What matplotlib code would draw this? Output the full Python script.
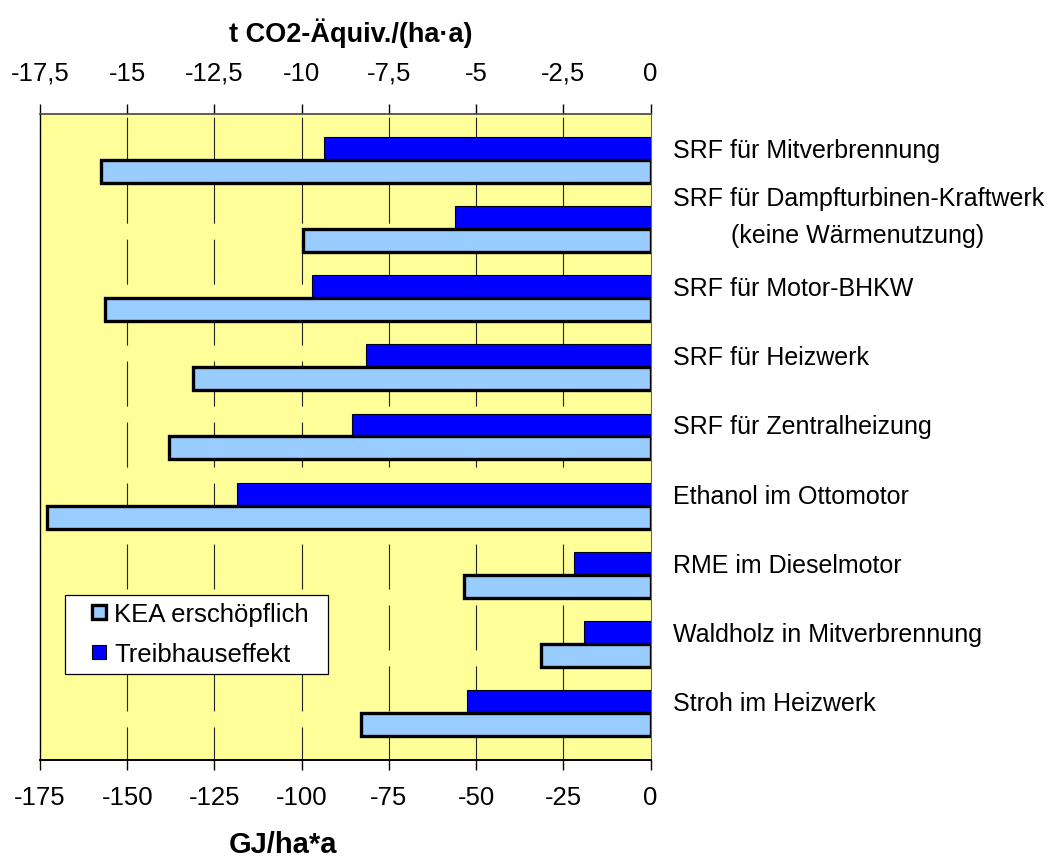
import matplotlib
matplotlib.use("Agg")
import matplotlib.pyplot as plt
from matplotlib.lines import Line2D
from matplotlib.patches import Rectangle
from matplotlib.ticker import FuncFormatter, FixedLocator
from matplotlib.transforms import blended_transform_factory

plt.rcParams['font.family'] = ['Liberation Sans', 'DejaVu Sans']
plt.rcParams['lines.scale_dashes'] = False

# Pathways (top to bottom)
categories = [
    "SRF für Mitverbrennung",
    "SRF für Dampfturbinen-Kraftwerk",
    "SRF für Motor-BHKW",
    "SRF für Heizwerk",
    "SRF für Zentralheizung",
    "Ethanol im Ottomotor",
    "RME im Dieselmotor",
    "Waldholz in Mitverbrennung",
    "Stroh im Heizwerk",
]
sub_label = "(keine Wärmenutzung)"

# Savings of exhaustible primary energy, GJ/(ha*a)
kea = [-157.5, -99.5, -156.5, -131.0, -138.0, -173.0, -53.5, -31.5, -83.0]
# Greenhouse gas savings, t CO2-eq./(ha*a)
thg = [-9.35, -5.6, -9.7, -8.15, -8.55, -11.85, -2.2, -1.9, -5.25]

gj_ticks = [-175, -150, -125, -100, -75, -50, -25, 0]
co2_ticks = [-17.5, -15, -12.5, -10, -7.5, -5, -2.5, 0]

YELLOW = "#FFFF99"
DARK = "#0000FF"
LIGHT = "#99CCFF"
FS = 18.5
FS_CAT = 18

fig = plt.figure(figsize=(10.52, 8.62), dpi=100)
W, H = 1052, 862
left, right, top, bottom = 40, 650.5, 115, 761
rect = [left / W, 1 - bottom / H, (right - left) / W, (bottom - top) / H]

# Lower layer: CO2 scale (top axis), background, grid and dark bars
ax2 = fig.add_axes(rect)
# Upper layer: energy scale (bottom axis) and light bars
ax = fig.add_axes(rect, sharey=ax2)
ax.set_zorder(ax2.get_zorder() + 1)
ax.patch.set_visible(False)
ax2.set_facecolor(YELLOW)

n = len(categories)
ypos = list(range(n))
h = 0.332

ax2.barh([y - h / 2 for y in ypos], thg, height=h, color=DARK,
         edgecolor="black", linewidth=0.8, zorder=3)
ax.barh([y + h / 2 for y in ypos], kea, height=h, color=LIGHT,
        edgecolor="black", linewidth=2.4, zorder=3)

ax.set_ylim(8.675, -0.66)
ax.set_xlim(-175, 0)
ax2.set_xlim(-17.5, 0)

# Dashed vertical grid
for t in co2_ticks[1:-1]:
    ax2.axvline(t, color="#222222", linewidth=0.8,
                linestyle=(8.6, (32.4, 11.5)), zorder=1)

# Axes styling
comma = FuncFormatter(lambda v, p: ("%g" % v).replace(".", ","))
ax.xaxis.set_major_locator(FixedLocator(gj_ticks))
ax.xaxis.set_major_formatter(comma)
ax.tick_params(axis="x", direction="out", length=7, width=1, labelsize=FS,
               pad=11, bottom=True, top=False, labelbottom=True, labeltop=False)
ax2.xaxis.tick_top()
ax2.xaxis.set_major_locator(FixedLocator(co2_ticks))
ax2.xaxis.set_major_formatter(comma)
ax2.tick_params(axis="x", direction="out", length=7, width=1, labelsize=FS,
                pad=14, top=True, bottom=False, labeltop=True, labelbottom=False)
for a in (ax, ax2):
    a.tick_params(axis="y", left=False, right=False, labelleft=False,
                  labelright=False)
for s in ax.spines.values():
    s.set_visible(False)
ax2.spines["left"].set_color("black")
ax2.spines["left"].set_linewidth(1.0)
ax2.spines["bottom"].set_color("black")
ax2.spines["bottom"].set_linewidth(1.4)
ax2.spines["top"].set_color("#444444")
ax2.spines["top"].set_linewidth(1.2)
ax2.spines["right"].set_color("#666666")
ax2.spines["right"].set_linewidth(0.8)

# Category labels on the right
tr = blended_transform_factory(ax.transAxes, ax.transData)
lx = (673 - left) / (right - left)
for i, name in enumerate(categories):
    if i == 1:
        ax.text(lx, 0.56, name, transform=tr, fontsize=FS_CAT, va="center",
                ha="left", clip_on=False)
        ax.text((731 - left) / (right - left), 1.09, sub_label, transform=tr,
                fontsize=FS_CAT, va="center", ha="left", clip_on=False)
    else:
        ax.text(lx, i - 0.145, name, transform=tr, fontsize=FS_CAT,
                va="center", ha="left", clip_on=False)

# Axis titles
fig.text(351 / W, 1 - 33 / H, "t CO2-Äquiv./(ha·a)", fontsize=19.5,
         fontweight="bold", ha="center", va="center")
fig.text(283 / W, 1 - 845 / H, "GJ/ha*a", fontsize=21,
         fontweight="bold", ha="center", va="center")

# Legend with a plain rectangular frame
def ax_x(px):
    return (px - left) / (right - left)

def ax_y(py):
    return (bottom - py) / (bottom - top)

bx0, bx1, by0, by1 = 65.3, 327.7, 595.7, 675.0
ax.add_patch(Rectangle((ax_x(bx0), ax_y(by1)), ax_x(bx1) - ax_x(bx0),
                       ax_y(by0) - ax_y(by1), transform=ax.transAxes,
                       facecolor="white", edgecolor="black", linewidth=0.9,
                       zorder=5, clip_on=False))
handles = [
    Line2D([], [], linestyle="none", marker="s", markersize=10.3,
           markerfacecolor=LIGHT, markeredgecolor="black", markeredgewidth=2.4),
    Line2D([], [], linestyle="none", marker="s", markersize=10.0,
           markerfacecolor=DARK, markeredgecolor="black", markeredgewidth=0.8),
]
leg = ax.legend(handles, ["KEA erschöpflich", "Treibhauseffekt"],
                loc="upper left", bbox_to_anchor=(ax_x(bx0), ax_y(by0)),
                fontsize=FS, frameon=False, handlelength=2.0,
                handletextpad=-0.4, labelspacing=0.62, borderpad=0.3,
                borderaxespad=0)
leg.set_zorder(6)

fig.savefig("out.png", dpi=100)
